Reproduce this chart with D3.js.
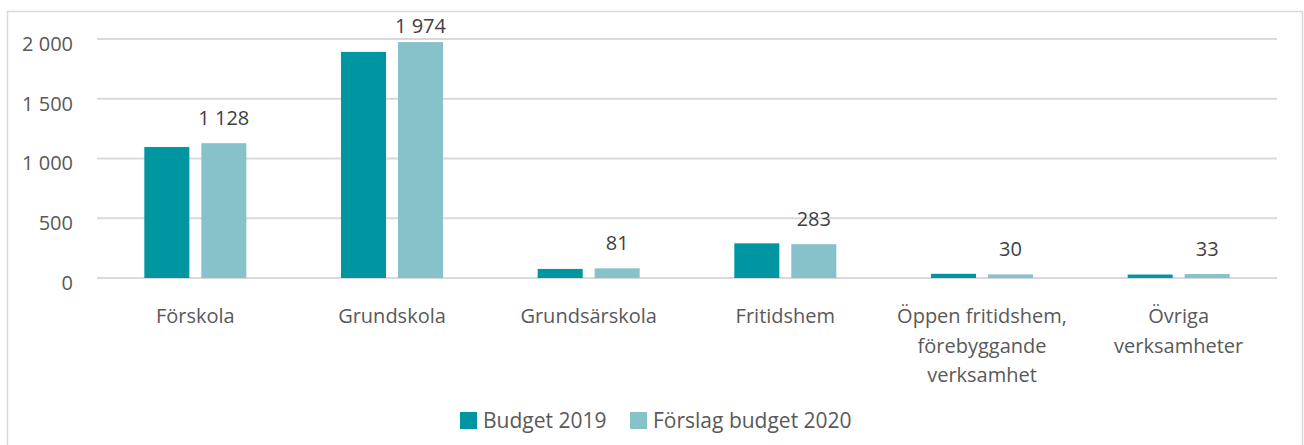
<!DOCTYPE html>
<html>
<head>
<meta charset="utf-8">
<script src="https://cdn.jsdelivr.net/npm/d3@7"></script>
<style>
  body { margin: 0; background: #fff; }
  text { font-family: "Open Sans", sans-serif; fill: #595959; }
</style>
</head>
<body>
<div id="chart"></div>
<script>
const categories = ["Förskola", "Grundskola", "Grundsärskola", "Fritidshem",
    "Öppen fritidshem, förebyggande verksamhet", "Övriga verksamheter"];
const seriesNames = ["Budget 2019", "Förslag budget 2020"];
const budget2019 = [1096, 1892, 76, 290, 35, 29];
const budget2020 = [1128, 1974, 81, 283, 30, 33];
const yTicks = [0, 500, 1000, 1500, 2000];
const colors = ["#0096a1", "#87c1ca"];

const width = 1304;
const height = 445;
const margin = {top: 39, right: 27, bottom: 167, left: 97};
const fontSize = "20px";

const locale = d3.formatLocale({decimal: ",", thousands: "\u00a0", grouping: [3], currency: ["", " kr"]});
const fmt = locale.format(",d");

const svg = d3.select("#chart")
    .append("svg")
    .attr("width", width)
    .attr("height", height);

// outer frame
svg.append("rect")
    .attr("x", 7.5)
    .attr("y", 11.5)
    .attr("width", 1295)
    .attr("height", 460)
    .attr("fill", "none")
    .attr("stroke", "#d9d9d9")
    .attr("stroke-width", 1.5);

const x0 = d3.scaleBand()
    .domain(categories)
    .range([margin.left, width - margin.right]);

const x1 = d3.scaleBand()
    .domain(seriesNames)
    .range([0, x0.bandwidth()])
    .paddingInner(0.21)
    .paddingOuter(0.83);

const y = d3.scaleLinear()
    .domain([0, 2000])
    .range([278, margin.top]);

// gridlines
svg.append("g")
    .selectAll("line")
    .data(yTicks)
    .join("line")
    .attr("x1", margin.left)
    .attr("x2", width - margin.right)
    .attr("y1", d => y(d))
    .attr("y2", d => y(d))
    .attr("stroke", "#d9d9d9")
    .attr("stroke-width", 2);

// y axis labels
const yAxis = d3.axisLeft(y)
    .tickValues(yTicks)
    .tickSize(0)
    .tickPadding(24)
    .tickFormat(fmt);
const yg = svg.append("g")
    .attr("transform", `translate(${margin.left},5)`)
    .call(yAxis);
yg.select(".domain").remove();
yg.selectAll("text")
    .style("font-size", fontSize)
    .style("font-family", "'Open Sans', sans-serif")
    .attr("fill", "#595959");

const rows = categories.map((c, i) => ({cat: c, values: [budget2019[i], budget2020[i]]}));

const groups = svg.append("g")
    .selectAll("g")
    .data(rows)
    .join("g")
    .attr("transform", d => `translate(${x0(d.cat)},0)`);

groups.selectAll("rect")
    .data(d => d.values.map((v, j) => ({key: seriesNames[j], value: v, j})))
    .join("rect")
    .attr("x", d => x1(d.key))
    .attr("width", x1.bandwidth())
    .attr("y", d => y(d.value))
    .attr("height", d => y(0) - y(d.value))
    .attr("fill", d => colors[d.j]);

// data labels on 2020 series
groups.append("text")
    .attr("x", x1(seriesNames[1]) + x1.bandwidth() / 2)
    .attr("y", d => Math.max(y(d.values[1]) - 18, 33))
    .attr("text-anchor", "middle")
    .style("font-size", fontSize)
    .style("fill", "#404040")
    .text(d => fmt(d.values[1]));

// category labels with wrapping
const xAxis = d3.axisBottom(x0).tickSize(0).tickPadding(0);
const xg = svg.append("g")
    .attr("transform", `translate(0,${y(0)})`)
    .call(xAxis);
xg.select(".domain").remove();
xg.selectAll("text")
    .style("font-size", fontSize)
    .style("font-family", "'Open Sans', sans-serif")
    .attr("fill", "#595959")
    .attr("y", 0)
    .attr("dy", null)
    .each(function (d) {
        const t = d3.select(this);
        const words = d.split(" ");
        t.text(null);
        const lines = [];
        let line = [];
        const probe = t.append("tspan");
        words.forEach(w => {
            line.push(w);
            probe.text(line.join(" "));
            if (probe.node().getComputedTextLength() > 180 && line.length > 1) {
                line.pop();
                lines.push(line.join(" "));
                line = [w];
            }
        });
        lines.push(line.join(" "));
        probe.remove();
        lines.forEach((l, k) => {
            t.append("tspan")
                .attr("x", 0)
                .attr("y", 45 + k * 29.5)
                .text(l);
        });
    });

// legend
const legend = svg.append("g")
    .attr("transform", "translate(460,412)");
const legendX = [0, 170];
const items = legend.selectAll("g")
    .data(seriesNames)
    .join("g")
    .attr("transform", (d, i) => `translate(${legendX[i]},0)`);
items.append("rect")
    .attr("width", 17)
    .attr("height", 17)
    .attr("fill", (d, i) => colors[i]);
items.append("text")
    .attr("x", 23)
    .attr("y", 16)
    .style("font-size", "21px")
    .text(d => d);
</script>
</body>
</html>
